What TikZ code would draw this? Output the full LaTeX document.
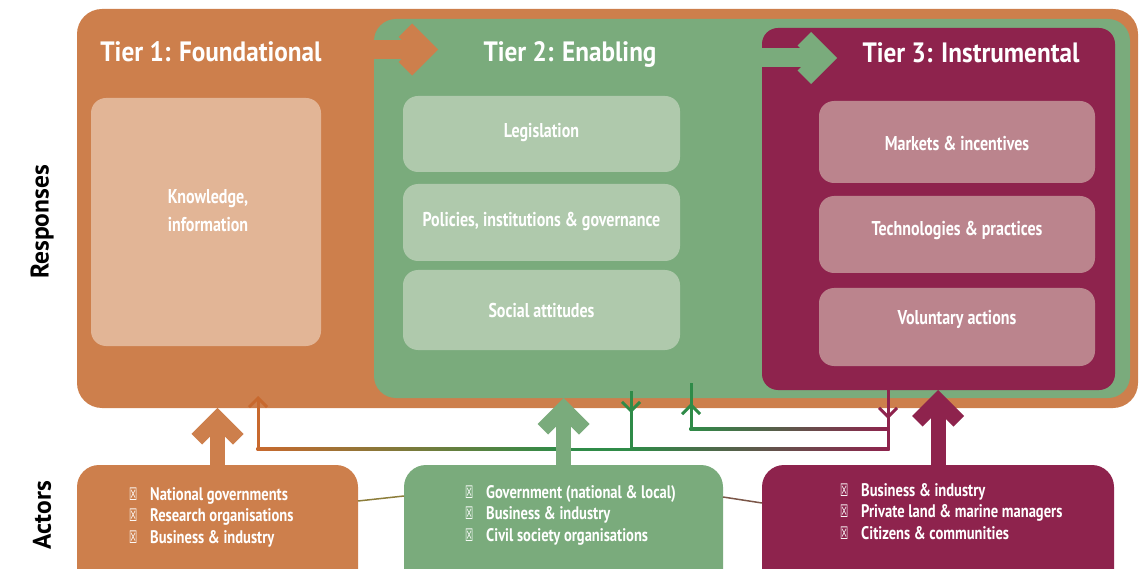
\documentclass[tikz,border=0pt]{standalone}
\usepackage{fontspec}
\setmainfont{PT Sans}[FakeStretch=0.8]
\newfontfamily\titlefont{PT Sans}[FakeStretch=0.9]
\newfontfamily\labelfont{PT Sans}
\newfontfamily\symb{DejaVu Sans}
\usetikzlibrary{positioning,arrows.meta}

\definecolor{orangeC}{RGB}{205,127,76}
\definecolor{greenC}{RGB}{122,171,124}
\definecolor{maroonC}{RGB}{142,35,77}
\definecolor{peachB}{RGB}{226,181,150}
\definecolor{greenB}{RGB}{175,201,172}
\definecolor{pinkB}{RGB}{187,132,141}
\definecolor{thinO}{RGB}{200,105,46}
\definecolor{thinG}{RGB}{47,139,72}
\definecolor{thinM}{RGB}{142,35,77}

\newcommand\bul{\makebox[21pt][l]{\mdseries\scalebox{0.5}[0.95]{\symb ☒}}}

\tikzset{
  tier/.style={rectangle, inner sep=0pt, outer sep=0pt},
  sub/.style={rectangle, rounded corners=15pt, inner sep=0pt, outer sep=0pt,
    text=white, align=center, text height=13pt, text depth=4pt,
    font=\bfseries\fontsize{20}{28}\selectfont},
  subtext/.style={text=white, align=center, inner sep=0pt,
    font=\bfseries\fontsize{20}{28}\selectfont},
  title/.style={text=white, inner sep=0pt, anchor=base, font=\titlefont\bfseries\fontsize{28}{30}\selectfont},
  actor/.style={rectangle, rounded corners=22pt, inner sep=0pt, outer sep=0pt},
  actlist/.style={text=white, align=left, inner sep=0pt, anchor=north west,
    font=\bfseries\fontsize{18.2}{21.5}\selectfont},
  side/.style={rotate=90, inner sep=0pt, font=\labelfont\bfseries\fontsize{25.5}{27}\selectfont},
  fat/.style={line width=15pt},
  fatr/.style={line width=19pt},
  thin/.style={line width=3pt},
  tip/.style={-{Straight Barb[length=9pt,width=18pt]}},
  chevup/.pic={\draw[line width=15pt, pic actions] (-20.7,31.3) -- (0,10.6) -- (20.7,31.3);},
  chevright/.pic={\draw[line width=19pt, pic actions] (-32.7,-19.3) -- (-13.4,0) -- (-32.7,19.3);}
}

\begin{document}
\begin{tikzpicture}[x=1pt,y=-1pt]
\useasboundingbox (0,0) rectangle (1148,569);
\clip (0,0) rectangle (1148,569);

% responses
\node[tier, fill=orangeC, rounded corners=25pt, minimum width=1061, minimum height=399] (t1) at (607.5,208.5) {};
\node[tier, fill=greenC, rounded corners=22pt, minimum width=756, minimum height=379] (t2) at (752,208.5) {};
\node[tier, fill=maroonC, rounded corners=16pt, minimum width=353, minimum height=362] (t3) at (938.5,209) {};

\node[title] (h1) at (211,62) {Tier 1: Foundational};
\node[title] (h2) at (570,62) {Tier 2: Enabling};
\node[title] (h3) at (971,63) {Tier 3: Instrumental};

\node[sub, fill=peachB, minimum width=230, minimum height=248] (know) at (206,222) {};
\node[subtext] (knowtxt) at (208,211) {Knowledge,\\information};

\node[sub, fill=greenB, minimum width=277, minimum height=76, text depth=6pt] (leg) at (541.5,134) {Legislation};
\node[sub, fill=greenB, minimum width=277, minimum height=77, text depth=5pt] (pol) at (541.5,222.5) {Policies, institutions \& governance};
\node[sub, fill=greenB, minimum width=277, minimum height=80, text height=19pt] (soc) at (541.5,310) {Social attitudes};

\node[sub, fill=pinkB, minimum width=276, minimum height=82, text height=21pt] (mkt) at (957,142) {Markets \& incentives};
\node[sub, fill=pinkB, minimum width=276, minimum height=77, text depth=11pt] (tec) at (957,234.5) {Technologies \& practices};
\node[sub, fill=pinkB, minimum width=276, minimum height=78, text depth=18pt] (vol) at (957,327) {Voluntary actions};

% arrows between tiers
\coordinate (s12) at (374,49.5);
\coordinate (e12) at (438,49.5);
\coordinate (s23) at (762,58);
\coordinate (e23) at (837,58);
\draw[fatr, orangeC, shorten >=13pt] (s12) -- (e12);
\pic[draw=orangeC] at (e12) {chevright};
\draw[fatr, greenC, shorten >=13pt] (s23) -- (e23);
\pic[draw=greenC] at (e23) {chevright};

% actors
\node[actor, fill=orangeC, minimum width=281, minimum height=155] (act1) at (217.5,542.5) {};
\node[actor, fill=greenC, minimum width=319, minimum height=155] (act2) at (563.5,542.5) {};
\node[actor, fill=maroonC, minimum width=352, minimum height=155] (act3) at (938,542.5) {};

\node[actlist] (l1) at (129,487) {\bul National governments\\\bul Research organisations\\\bul Business \& industry};
\node[actlist] (l2) at (465,485) {\bul Government (national \& local)\\\bul Business \& industry\\\bul Civil society organisations};
\node[actlist] (l3) at (840,483) {\bul Business \& industry\\\bul Private land \& marine managers\\\bul Citizens \& communities};

\draw[line width=1.5pt, color={rgb,255:red,140;green,125;blue,58}] ([yshift=-36pt]act1.north east) -- ([yshift=-31pt]act2.north west);
\draw[line width=1.5pt, color={rgb,255:red,123;green,86;blue,72}] ([yshift=-32pt]act2.north east) -- ([yshift=-38pt]act3.north west);

% feedback lines
\coordinate (fbO) at (258,449);
\coordinate (fbG) at (631,449);
\coordinate (fbM) at (888,449);
\coordinate (upG) at (691,429);
\coordinate (upM) at (888,429);
\coordinate (gtop) at (631,391);
\coordinate (gup) at (691,383);

\shade[left color=thinO, right color=thinG] (256.5,447.5) rectangle (560,450.5);
\fill[thinG] (560,447.5) rectangle (631,450.5);
\shade[left color=thinG, right color=thinM] (631,447.5) rectangle (889.5,450.5);
\shade[left color=thinG, right color=thinM] (689.5,427.5) rectangle (889.5,430.5);

\draw[thin, thinO, tip] (fbO) -- (258,396);
\draw[thin, thinG] (gtop) -- (fbG);
\draw[thin, thinG, tip] (gtop) -- (631,413);
\draw[thin, thinM] (t3.south -| fbM) -- (fbM);
\draw[thin, thinM, tip] (t3.south -| fbM) -- (888,419);
\draw[thin, thinG] (upG) -- (gup);
\draw[thin, thinG, tip] (upG) -- (691,403);

% actors to tiers
\draw[fat, orangeC, shorten >=10pt] (act1.north) -- (act1.north |- t1.south);
\pic[draw=orangeC] at (act1.north |- t1.south) {chevup};
\draw[fat, greenC, shorten >=10pt] (act2.north) -- (act2.north |- t2.south);
\pic[draw=greenC] at (act2.north |- t2.south) {chevup};
\draw[fat, maroonC, shorten >=10pt] (act3.north) -- (act3.north |- t3.south);
\pic[draw=maroonC] at (act3.north |- t3.south) {chevup};

% side labels
\node[side] (resp) at (42,222) {Responses};
\node[side] (actors) at (42,515) {Actors};
\end{tikzpicture}
\end{document}
